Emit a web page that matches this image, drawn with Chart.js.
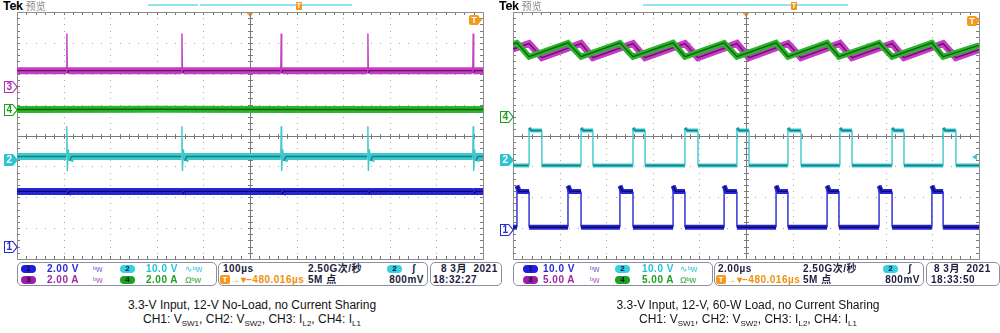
<!DOCTYPE html>
<html>
<head>
<meta charset="utf-8">
<script src="https://cdn.jsdelivr.net/npm/chart.js@4.4.0/dist/chart.umd.min.js"></script>
<style>
*{box-sizing:border-box}
body{margin:0;width:1000px;height:333px;background:#fff;overflow:hidden;position:relative;font-family:"Liberation Sans","Noto Sans CJK SC",sans-serif}
.panel{position:absolute;top:0;width:504px;height:333px}
.panel canvas{position:absolute;left:15px;top:10px}
.tek{position:absolute;left:3px;top:-1px;font:bold 12.5px/14px "Liberation Sans",sans-serif;color:#000;letter-spacing:-0.3px;white-space:nowrap}
.tek span{font:10px/14px "Noto Sans CJK SC",sans-serif;color:#8a8a8a;letter-spacing:0;margin-left:3px}
.rec{position:absolute;top:4px;height:2px;background:#92e4ec}
.tpos{position:absolute;top:2px;width:6px;height:8px;background:#f39a1a;color:#fff;font:bold 7px/8px "Liberation Sans";text-align:center}
.tdown{position:absolute;top:12px;width:0;height:0;border-left:4px solid transparent;border-right:4px solid transparent;border-top:5px solid #f39a1a}
.tlev{position:absolute;width:10px;height:10px;background:#f39a1a;border-radius:2px;color:#fff;font:bold 9px/10px "Liberation Sans";text-align:center}
.tlev:after{content:"";position:absolute;left:10px;top:2px;border-top:3px solid transparent;border-bottom:3px solid transparent;border-left:3px solid #f39a1a}
.gm{position:absolute;left:4px;width:14px;height:12px;background:var(--c);clip-path:polygon(0 0,9px 0,14px 50%,9px 100%,0 100%)}
.gm span{position:absolute;left:1px;top:1px;width:12px;height:10px;background:#fff;color:var(--c);clip-path:polygon(0 0,7.5px 0,11.5px 50%,7.5px 100%,0 100%);font:bold 10px/10px "Liberation Sans";padding-left:1.5px}
.gm.on span{background:var(--c);color:#fff}
.larr{position:absolute;border-top:3px solid transparent;border-bottom:3px solid transparent;border-right:5px solid #3cc8d0}
.box{position:absolute;top:262px;height:24px;border:1px solid #8a90a2;border-radius:5px}
.t{position:absolute;font:bold 10px/10px "Liberation Sans","Noto Sans CJK SC",sans-serif;letter-spacing:0.5px;white-space:nowrap;color:#1c1c3c}
.r1{top:1px}.r2{top:12px}
.pill{position:absolute;width:15px;height:8px;border-radius:4px;font:bold 8px/8px "Liberation Sans";text-align:center;color:#0c0c40}
.p1{top:2px}.p2{top:13px}
.bw{font-size:8.5px;letter-spacing:-0.3px;opacity:.7}
.tb{display:inline-block;width:10px;height:9px;background:#f39a1a;color:#fff;border-radius:2px;text-align:center;font-size:8px;line-height:9px;letter-spacing:0;vertical-align:top}
.cap{position:absolute;left:0;width:504px;text-align:center;font-size:12px;line-height:14px;color:#141414;white-space:nowrap}
.cap sub{font-size:8px;line-height:0;vertical-align:-3px}
</style>
</head>
<body>

<div class="panel" style="left:0">
  <div class="tek">Tek<span>预览</span></div>
  <div class="rec" style="left:148px;width:50px"></div>
  <div class="rec" style="left:200px;width:152px"></div>
  <div class="tpos" style="left:296px">T</div>
  <div class="tdown" style="left:246px"></div>
  <canvas id="noLoad" width="470" height="251"></canvas>
  <div class="tlev" style="left:469px;top:15px">T</div>
  <div class="gm" style="top:81px;--c:#b02eb0"><span>3</span></div>
  <div class="gm" style="top:104px;--c:#1e9e1e"><span>4</span></div>
  <div class="gm on" style="top:154px;--c:#2cc4d0"><span>2</span></div>
  <div class="gm" style="top:241px;--c:#2a2ad0"><span>1</span></div>

  <div class="box" style="left:17px;width:200px">
    <div class="pill p1" style="left:3px;background:#1e1ee0">1</div>
    <div class="t r1" style="left:29px;color:#2828d8">2.00 V</div>
    <div class="t r1 bw" style="left:75px;color:#6a5ac8">ᵇw</div>
    <div class="pill p1" style="left:102px;background:#34d2e2">2</div>
    <div class="t r1" style="left:128px;color:#22c4d4">10.0 V</div>
    <div class="t r1 bw" style="left:167px;color:#22c4d4">∿ᵇw</div>
    <div class="pill p2" style="left:3px;background:#9c1ea4">3</div>
    <div class="t r2" style="left:29px;color:#a024a8">2.00 A</div>
    <div class="t r2 bw" style="left:75px;color:#a054b0">ᵇw</div>
    <div class="pill p2" style="left:102px;background:#1ea01e">4</div>
    <div class="t r2" style="left:128px;color:#1ea01e">2.00 A</div>
    <div class="t r2 bw" style="left:167px;color:#1ea01e">Ωᵇw</div>
  </div>
  <div class="box" style="left:218px;width:210px">
    <div class="t r1" style="left:4px">100µs</div>
    <div class="t r1" style="left:89px">2.50G次/秒</div>
    <div class="pill p1" style="left:168px;background:#34d2e2">2</div>
    <div class="t r1" style="left:193px">ʃ</div>
    <div class="t r2" style="left:1px;color:#f0900c"><span class="tb">T</span>→▾−480.016µs</div>
    <div class="t r2" style="left:89px">5M 点</div>
    <div class="t r2" style="right:3px">800mV</div>
  </div>
  <div class="box" style="left:430px;width:72px">
    <div class="t r1" style="left:10px">8 3月&nbsp;&nbsp;2021</div>
    <div class="t r2" style="left:2px">18:32:27</div>
  </div>
  <div class="cap" style="top:298px">3.3-V Input, 12-V No-Load, no Current Sharing</div>
  <div class="cap" style="top:312px">CH1: V<sub>SW1</sub>, CH2: V<sub>SW2</sub>, CH3: I<sub>L2</sub>, CH4: I<sub>L1</sub></div>
</div>

<div class="panel" style="left:496px">
  <div class="tek">Tek<span>预览</span></div>
  <div class="rec" style="left:147px;width:205px"></div>
  <div class="tpos" style="left:295px">T</div>
  <div class="tdown" style="left:246px"></div>
  <canvas id="fullLoad" width="470" height="251"></canvas>
  <div class="tlev" style="left:471px;top:16px">T</div>
  <div class="larr" style="left:476px;top:154px"></div>
  <div class="gm" style="top:111px;--c:#1e9e1e"><span>4</span></div>
  <div class="gm on" style="top:154px;--c:#2cc4d0"><span>2</span></div>
  <div class="gm" style="top:224px;--c:#2a2ad0"><span>1</span></div>

  <div class="box" style="left:17px;width:200px">
    <div class="pill p1" style="left:9px;background:#1e1ee0">1</div>
    <div class="t r1" style="left:29px;color:#2828d8">10.0 V</div>
    <div class="t r1 bw" style="left:76px;color:#6a5ac8">ᵇw</div>
    <div class="pill p1" style="left:101px;background:#34d2e2">2</div>
    <div class="t r1" style="left:128px;color:#22c4d4">10.0 V</div>
    <div class="t r1 bw" style="left:166px;color:#22c4d4">∿ᵇw</div>
    <div class="pill p2" style="left:9px;background:#9c1ea4">3</div>
    <div class="t r2" style="left:29px;color:#a024a8">5.00 A</div>
    <div class="t r2 bw" style="left:76px;color:#a054b0">ᵇw</div>
    <div class="pill p2" style="left:101px;background:#1ea01e">4</div>
    <div class="t r2" style="left:128px;color:#1ea01e">5.00 A</div>
    <div class="t r2 bw" style="left:166px;color:#1ea01e">Ωᵇw</div>
  </div>
  <div class="box" style="left:218px;width:210px">
    <div class="t r1" style="left:3px">2.00µs</div>
    <div class="t r1" style="left:88px">2.50G次/秒</div>
    <div class="pill p1" style="left:168px;background:#34d2e2">2</div>
    <div class="t r1" style="left:193px">ʃ</div>
    <div class="t r2" style="left:1px;color:#f0900c"><span class="tb">T</span>→▾−480.016µs</div>
    <div class="t r2" style="left:88px">5M 点</div>
    <div class="t r2" style="right:3px">800mV</div>
  </div>
  <div class="box" style="left:430px;width:74px">
    <div class="t r1" style="left:7px">8 3月&nbsp;&nbsp;2021</div>
    <div class="t r2" style="left:4px">18:33:50</div>
  </div>
  <div class="cap" style="top:298px">3.3-V Input, 12-V, 60-W Load, no Current Sharing</div>
  <div class="cap" style="top:312px">CH1: V<sub>SW1</sub>, CH2: V<sub>SW2</sub>, CH3: I<sub>L2</sub>, CH4: I<sub>L1</sub></div>
</div>

<script>
// Trace levels are in screen divisions: +4 is the top line, -4 the bottom.

// ── 12-V no load, 100 µs/div ─────────────────────────
const nlIL2 = [[0,2.1],[106,2.1],[107,3.3],[108,2.02],[110,2.1],[353,2.1],[354,3.3],[355,2.02],[357,2.1],
  [566,2.1],[567,3.3],[568,2.02],[570,2.1],[752,2.1],[753,3.3],[754,2.02],[756,2.1],
  [978,2.1],[979,3.3],[980,2.02],[982,2.1],[1000,2.1]];
const nlIL1 = [[0,0.84],[300,0.85],[600,0.84],[1000,0.84]];
const nlVsw2 = [[0,-0.68],
  [106,-0.68],[107,0.3],[108,-1.15],[110,-0.45],[113,-0.82],[117,-0.68],
  [353,-0.68],[354,0.3],[355,-1.15],[357,-0.45],[360,-0.82],[364,-0.68],
  [566,-0.68],[567,0.3],[568,-1.15],[570,-0.45],[573,-0.82],[577,-0.68],
  [752,-0.68],[753,0.3],[754,-1.15],[756,-0.45],[759,-0.82],[763,-0.68],
  [978,-0.68],[979,0.3],[980,-1.15],[982,-0.45],[985,-0.82],[989,-0.68],
  [1000,-0.68]];
const nlVsw1 = [[0,-1.81],[106,-1.81],[107,-1.72],[109,-1.9],[112,-1.81],[353,-1.81],[354,-1.73],[356,-1.89],[359,-1.81],
  [566,-1.81],[567,-1.72],[569,-1.9],[572,-1.81],[752,-1.81],[753,-1.73],[755,-1.89],[758,-1.81],
  [978,-1.81],[979,-1.73],[981,-1.89],[984,-1.81],[1000,-1.81]];

// ── 12-V 60-W load, 2 µs/div ─────────────────────────
const ldVsw1Rise = [0.17,2.36,4.59,6.87,9.06,11.29,13.48,15.71,17.98];
const ldVsw1Fall = [0.69,2.92,5.15,7.38,9.61,11.80,13.99,16.27,18.46];
const ldVsw1Lvl  = [-2.97,-1.81,-1.63];   // low, high, turn-on ring
const ldVsw2Rise = [0.69,2.92,5.15,7.38,9.61,11.80,14.03,16.27,18.46];
const ldVsw2Fall = [1.24,3.43,5.67,7.94,10.13,12.36,14.55,16.78,19.01];
const ldVsw2Lvl  = [-0.97,0.16,0.24];
const ldIL1 = [[0,2.96],[0.17,3.0],[0.69,2.55],[2.36,3.0],[2.92,2.55],[4.59,3.0],[5.15,2.55],[6.87,3.0],[7.38,2.55],
  [9.06,3.0],[9.61,2.55],[11.29,3.0],[11.80,2.55],[13.48,3.0],[13.99,2.55],[15.71,3.0],[16.27,2.55],
  [17.98,3.0],[18.46,2.55],[20,2.92]];
const ldIL2 = [[0,2.8],[0.69,2.98],[1.24,2.52],[2.92,2.98],[3.43,2.52],[5.15,2.98],[5.67,2.52],[7.38,2.98],[7.94,2.52],
  [9.61,2.98],[10.13,2.52],[11.80,2.98],[12.36,2.52],[14.03,2.98],[14.55,2.52],[16.27,2.98],[16.78,2.52],
  [18.46,2.98],[19.01,2.52],[20,2.78]];

const COL = {
  ch1: ['#2626d2', '#0a0a74'],
  ch2: ['#3ec8cc', '#0f7f88'],
  ch3: ['#c43ec4', '#6e0e6e'],
  ch4: ['#2cb42c', '#0c640c'],
};

// square switch-node wave from edge times
function pulses(rise, fall, [lo, hi, ring], tEnd) {
  const pts = [[0, lo]];
  rise.forEach((r, i) => {
    pts.push([r, lo], [r, ring], [r + 0.1, hi], [fall[i], hi], [fall[i], lo]);
  });
  pts.push([tEnd, lo]);
  return pts;
}

// near-vertical pieces (edges, spikes) are drawn thin, like the scope does
const steep = c => {
  const dx = Math.abs(c.p1.x - c.p0.x), dy = Math.abs(c.p1.y - c.p0.y);
  return dy > 4 && dy > 2.5 * dx;
};

function trace(data, [band, core], w, order) {
  return [
    { data, order: order + 1, borderWidth: w, borderColor: band, clip: 0,
      segment: { borderColor: c => steep(c) ? 'rgba(0,0,0,0)' : band } },
    { data, order, borderWidth: 1.4, borderColor: core, clip: 0,
      segment: { borderColor: c => steep(c) ? band : core } },
  ];
}

// Tek style graticule: 10 x 8 divisions, dotted, centre cross and frame ticked every 1/5 div
const graticule = {
  id: 'graticule',
  beforeDatasetsDraw(chart, _a, opts) {
    const { ctx, scales: { x, y } } = chart;
    const xs = opts.xDiv;
    const X = v => Math.round(x.getPixelForValue(v));
    const Y = v => Math.round(y.getPixelForValue(v));
    const x0 = X(0), x1 = X(xs * 10), y0 = Y(4), y1 = Y(-4);
    const xc = X(xs * 5), yc = Y(0);
    ctx.save();
    ctx.fillStyle = '#a6a6a6';
    for (let i = 1; i < 10; i++) {
      if (i === 5) continue;
      const px = X(i * xs);
      for (let s = 1; s < 40; s++) ctx.fillRect(px, Y(4 - s / 5), 1, 1);
    }
    for (let j = -3; j <= 3; j++) {
      if (j === 0) continue;
      const py = Y(j);
      for (let s = 1; s < 50; s++) ctx.fillRect(X(s * xs / 5), py, 1, 1);
    }
    ctx.fillStyle = '#7a7a7a';
    ctx.fillRect(xc, y0, 1, y1 - y0);
    ctx.fillRect(x0, yc, x1 - x0, 1);
    for (let s = 1; s < 50; s++) {
      const px = X(s * xs / 5);
      ctx.fillRect(px, yc - 2, 1, 5);
      ctx.fillRect(px, y0, 1, 3);
      ctx.fillRect(px, y1 - 3, 1, 3);
    }
    for (let s = 1; s < 40; s++) {
      const py = Y(4 - s / 5);
      ctx.fillRect(xc - 2, py, 5, 1);
      ctx.fillRect(x0, py, 3, 1);
      ctx.fillRect(x1 - 3, py, 3, 1);
    }
    ctx.strokeStyle = '#8e8e8e';
    ctx.lineWidth = 1;
    ctx.strokeRect(x0 + 0.5, y0 + 0.5, x1 - x0, y1 - y0);
    ctx.restore();
  }
};

function scope(id, xMax, datasets) {
  return new Chart(document.getElementById(id), {
    type: 'line',
    data: { datasets },
    options: {
      responsive: false, animation: false, events: [],
      layout: { padding: 2 },
      plugins: { legend: { display: false }, tooltip: { enabled: false }, graticule: { xDiv: xMax / 10 } },
      scales: {
        x: { type: 'linear', min: 0, max: xMax, display: false },
        y: { type: 'linear', min: -4, max: 4, display: false },
      },
      elements: { point: { radius: 0 }, line: { tension: 0 } },
    },
    plugins: [graticule],
  });
}

scope('noLoad', 1000, [
  ...trace(nlIL2, COL.ch3, 7, 1),
  ...trace(nlIL1, COL.ch4, 7, 3),
  ...trace(nlVsw2, COL.ch2, 7, 5),
  ...trace(nlVsw1, COL.ch1, 7, 7),
]);

scope('fullLoad', 20, [
  ...trace(ldIL1, COL.ch4, 6, 1),
  ...trace(ldIL2, COL.ch3, 7, 3),
  ...trace(pulses(ldVsw2Rise, ldVsw2Fall, ldVsw2Lvl, 20), COL.ch2, 4, 5),
  ...trace(pulses(ldVsw1Rise, ldVsw1Fall, ldVsw1Lvl, 20), COL.ch1, 5, 7),
]);
</script>
</body>
</html>
